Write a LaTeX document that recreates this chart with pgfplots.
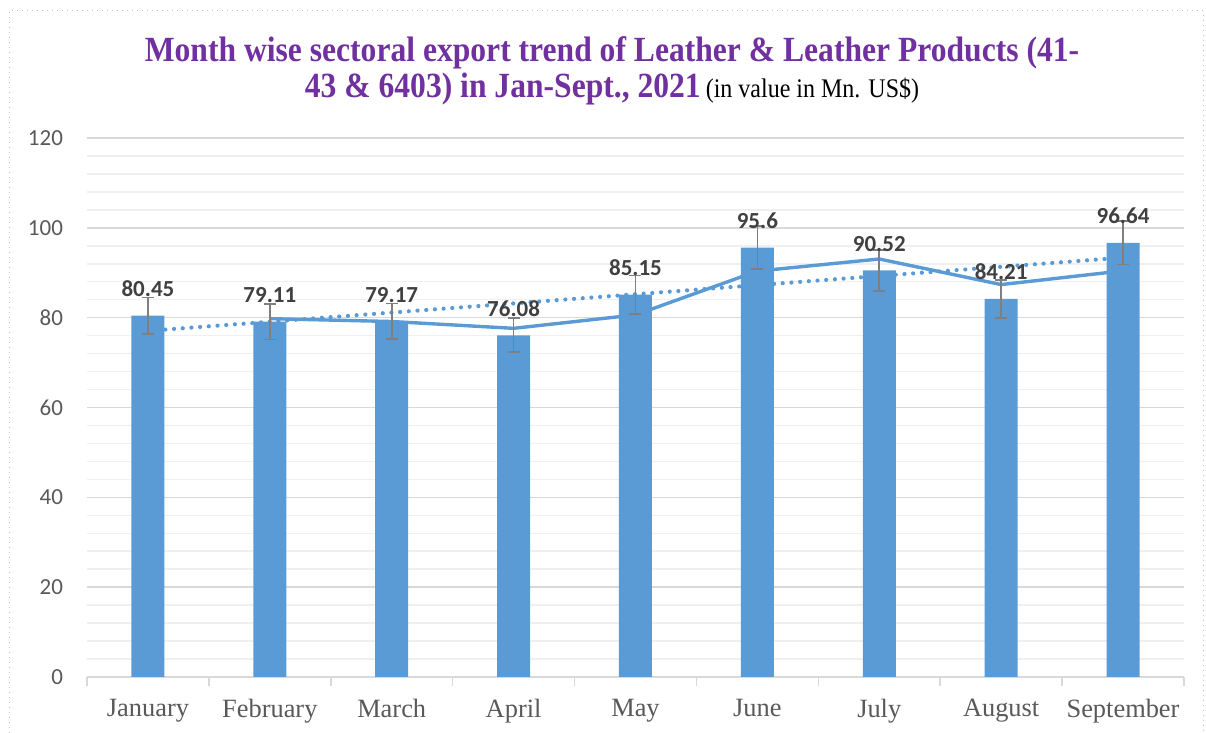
\documentclass[border=0pt]{standalone}
\usepackage{pgfplots}
\usepackage{pgfplotstable}
\pgfplotsset{compat=1.18}
\usepackage{fontspec}
\setmainfont{Liberation Serif}
\newfontfamily\carlito{Carlito}
\newfontfamily\tnr{Liberation Serif}
\definecolor{barblue}{HTML}{5B9BD5}
\definecolor{titlepurple}{HTML}{7030A0}
\definecolor{tickgray}{HTML}{595959}
\definecolor{labgray}{HTML}{404040}
\definecolor{majgrid}{HTML}{D9D9D9}
\definecolor{mingrid}{HTML}{F0F0F0}
\definecolor{errgray}{HTML}{7F7F7F}

\pgfplotstableread{
x y err lab
0 80.45 4.02 80.45
1 79.11 3.96 79.11
2 79.17 3.96 79.17
3 76.08 3.80 76.08
4 85.15 4.26 85.15
5 95.60 4.78 95.6
6 90.52 4.53 90.52
7 84.21 4.21 84.21
8 96.64 4.83 96.64
}\bars

\pgfplotstableread{
x y
1 79.78
2 79.14
3 77.625
4 80.615
5 90.375
6 93.06
7 87.365
8 90.425
}\movavg

\pgfplotstableread{
x y
0 77.06
8 93.37
}\trend

\begin{document}
\begin{tikzpicture}
\begin{axis}[
  at={(43.5pt,28pt)}, anchor=south west,
  scale only axis, width=548.5pt, height=269.5pt,
  xmin=-0.5, xmax=8.5, ymin=0, ymax=120,
  ytick={0,20,...,120}, minor ytick={4,8,...,116},
  ymajorgrids, yminorgrids,
  major grid style={draw=majgrid, line width=0.75pt},
  minor grid style={draw=mingrid, line width=0.75pt},
  axis x line*=bottom, axis y line*=left,
  y axis line style={draw=none},
  x axis line style={draw=majgrid, line width=0.75pt},
  xtick={-0.5,0.5,...,8.5},
  x tick label as interval,
  xticklabels={January,February,March,April,May,June,July,August,September},
  xtick style={draw=majgrid, line width=0.75pt},
  ytick style={draw=none},
  tick align=outside, xtick pos=bottom,
  major tick length=4.5pt,
  /pgf/number format/assume math mode=true,
  yticklabel style={font=\carlito\fontsize{11.5}{13}\selectfont, text=tickgray, xshift=-4pt},
  xticklabel style={font=\tnr\fontsize{13.2}{15}\selectfont, text=tickgray, yshift=-3pt},
  clip=false,
]
\addplot[draw=barblue, line width=2.1pt, dash pattern=on 0.01pt off 4.35pt, line cap=round] table[x=x,y=y] {\trend};
\addplot[draw=barblue, line width=1.7pt, line join=round] table[x=x,y=y] {\movavg};
\addplot[ybar, bar width=16.5pt, fill=barblue, draw=none,
  point meta=explicit symbolic,
  nodes near coords={\pgfplotspointmeta},
  nodes near coords style={font=\carlito\bfseries\fontsize{11.5}{13}\selectfont, text=labgray, anchor=base, inner sep=0pt, yshift=9.5pt},
  error bars/.cd, y dir=both, y explicit,
  error bar style={draw=errgray, line width=0.85pt},
  error mark options={rotate=90, mark size=3pt, line width=0.85pt, draw=errgray},
] table[x=x, y=y, y error=err, meta=lab] {\bars};
\end{axis}
\node[anchor=base, inner sep=0pt, text=titlepurple] at (306pt,335.6pt) {\scalebox{1}[1.12]{\tnr\bfseries\fontsize{15.8}{18}\selectfont Month wise sectoral export trend of Leather \& Leather Products (41-}};
\node[anchor=base, inner sep=0pt] at (306pt,317.5pt) {\scalebox{1}[1.12]{{\tnr\bfseries\fontsize{15.8}{18}\selectfont\color{titlepurple}43 \& 6403) in Jan-Sept., 2021} {\tnr\fontsize{12}{14}\selectfont (in value in Mn. US\$)}}};
\draw[black!25, dotted, line width=0.5pt] (4.5pt,-10pt) rectangle (601.5pt,361pt);
\pgfresetboundingbox
\useasboundingbox (0pt,0pt) rectangle (603pt,366.5pt);
\end{tikzpicture}
\end{document}
